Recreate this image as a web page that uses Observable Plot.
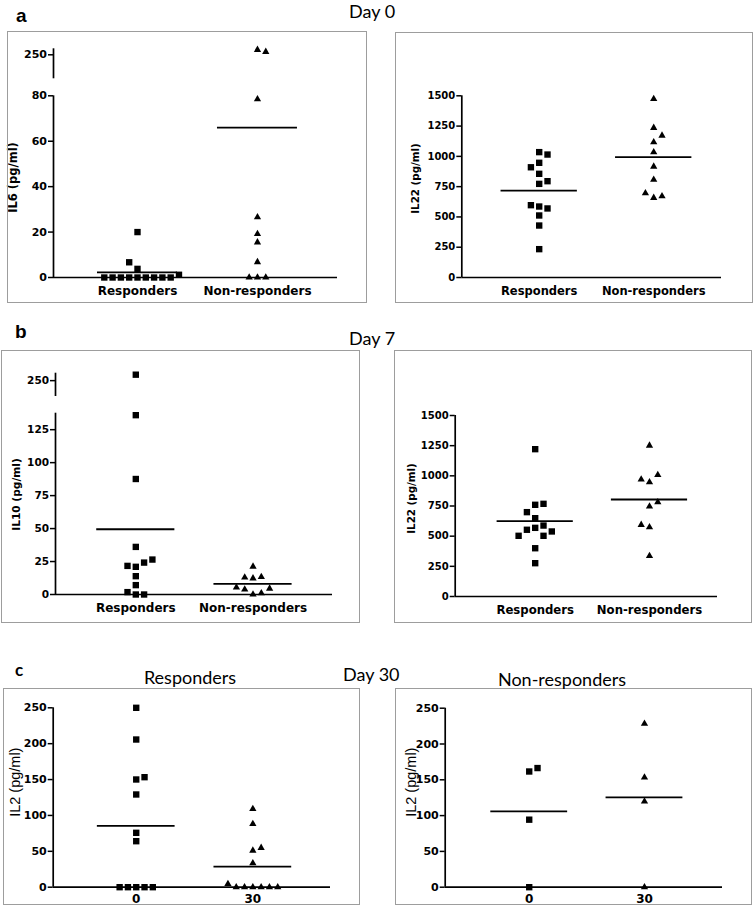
<!DOCTYPE html>
<html><head><meta charset="utf-8">
<script src="https://cdn.jsdelivr.net/npm/d3@7"></script>
<script src="https://cdn.jsdelivr.net/npm/@observablehq/plot@0.6"></script>
<style>
html,body{margin:0;padding:0;background:#fff;}
#page{position:relative;width:756px;height:908px;overflow:hidden;background:#fff;}
.box{position:absolute;border:1.6px solid #9d9d9d;box-sizing:border-box;pointer-events:none;}
.txt{position:absolute;white-space:nowrap;color:#000;}
#page svg{position:absolute;overflow:visible;}
</style></head><body><div id="page"></div>
<script>
// ---------- categories ----------
const groupLabels = ["Responders", "Non-responders"];
const dayLabels = ["0", "30"];

// ---------- Day 0 : IL6 (pg/ml) ----------
const il6Day0Responders    = [0,0,0,0,0,0,0,0,0,1.2,3.8,6.7,20];
const il6Day0NonResponders = [0,0,0,15.5,19.2,255,253,78.5,26.6,6.8];
const il6Day0Means         = [2.3, 66];
// ---------- Day 0 : IL22 (pg/ml) ----------
const il22Day0Responders    = [1035,1015,947,910,856,773,795,586,597,570,512,429,234];
const il22Day0NonResponders = [1475,1236,1172,1117,1034,916,807,658,696,671];
const il22Day0Means         = [718, 993];
// ---------- Day 7 : IL10 (pg/ml) ----------
const il10Day7Responders    = [0,0,1.8,7.1,13.9,21,24.2,21.7,26.5,36.1,87.6,136,256];
const il10Day7NonResponders = [0,1,3.8,4.5,5.3,12.3,13.4,12.9,21.2];
const il10Day7Means         = [49.5, 8.1];
// ---------- Day 7 : IL22 (pg/ml) ----------
const il22Day7Responders    = [1221,760,768,699,649,569,588,553,539,503,503,400,276];
const il22Day7NonResponders = [1251,947,1008,970,746,782,574,594,337];
const il22Day7Means         = [624, 804];
// ---------- Day 30 : IL2 (pg/ml) ----------
const il2RespondersDay0     = [250,205.8,150.1,153.3,129.2,75.8,64.1,0,0,0,0,0];
const il2RespondersDay30    = [0,0,0,0,0,0,4.7,33.4,51.1,54.9,88.3,109.2];
const il2RespondersMeans    = [85.5, 28.8];
const il2NonRespondersDay0  = [161.6,166.4,94.3,0];
const il2NonRespondersDay30 = [228.5,153.3,119.8,0];
const il2NonRespondersMeans = [105.9, 125.4];

// ---------- tick values ----------
const il6Ticks  = [0,20,40,60,80,250];
const il22Ticks = [0,250,500,750,1000,1250,1500];
const il10Ticks = [0,25,50,75,100,125,250];
const il2Ticks  = [0,50,100,150,200,250];

// ---------- axis domains (broken axes: lower + upper segment) ----------
const il6Domain  = [0,80,226,256];
const il10Domain = [0,137.5,234,257.5];
const il22Domain = [0,1500];
const il2Domain  = [0,250];

const page = document.getElementById("page");

// Prism-like column scatter: dodge points that would overlap, alternating sides
function dodge(values, yScale, step, thr) {
  const placed = []; let pref = 1; const out = [];
  for (const v of values) {
    const y = yScale(v);
    const free = k => placed.every(p => p.k !== k || Math.abs(p.y - y) >= thr);
    let k = 0;
    if (!free(0)) {
      for (let j = 1; j < 50; j++) {
        if (free(pref * j)) { k = pref * j; break; }
        if (free(-pref * j)) { k = -pref * j; break; }
      }
      pref = -pref;
    }
    placed.push({k, y}); out.push(k * step);
  }
  return out;
}

const boldLab = {family: "DejaVu Sans", weight: "bold"};
const regLab = {family: "Liberation Sans", weight: "normal"};

const panels = [
  {box:[7,31,360,272], mL:46, mR:30, mT:17.3, mB:26, xd:[0.3,2.667],
   yd:il6Domain, yr:[246,64.3,47.3,17.3], segs:[[0,80],[226,256]], ticks:il6Ticks,
   groups:groupLabels, series:[il6Day0Responders, il6Day0NonResponders], means:il6Day0Means,
   ylabel:"IL6 (pg/ml)", lab:[6,146], labFs:11.5, labStyle:boldLab, tickFs:11, catFs:12, catPad:9},
  {box:[395,32,358,271], mL:66.3, mR:32, mT:63.3, mB:26, xd:[0.324,2.592],
   yd:il22Domain, segs:[il22Domain], ticks:il22Ticks,
   groups:groupLabels, series:[il22Day0Responders, il22Day0NonResponders], means:il22Day0Means,
   ylabel:"IL22 (pg/ml)", lab:[20.5,146], labFs:10.3, labStyle:boldLab, tickFs:10, catFs:11.5, catPad:9},
  {box:[1,350,359,273], mL:54, mR:28, mT:22.7, mB:29, xd:[0.315,2.678],
   yd:il10Domain, yr:[244,62.7,46,22.7], segs:[[0,137.5],[234,257.5]], ticks:il10Ticks,
   groups:groupLabels, series:[il10Day7Responders, il10Day7NonResponders], means:il10Day7Means,
   ylabel:"IL10 (pg/ml)", lab:[15,144], labFs:10.6, labStyle:boldLab, tickFs:10.5, catFs:12, catPad:9},
  {box:[394,350,358,273], mL:60.7, mR:35, mT:65, mB:27, xd:[0.3,2.595],
   yd:il22Domain, segs:[il22Domain], ticks:il22Ticks,
   groups:groupLabels, series:[il22Day7Responders, il22Day7NonResponders], means:il22Day7Means,
   ylabel:"IL22 (pg/ml)", lab:[17,148], labFs:10.3, labStyle:boldLab, tickFs:10, catFs:11.7, catPad:9},
  {box:[3,688,357,217], mL:49.7, mR:30, mT:19.3, mB:18.3, xd:[0.288,2.666],
   yd:il2Domain, segs:[il2Domain], ticks:il2Ticks,
   groups:dayLabels, series:[il2RespondersDay0, il2RespondersDay30], means:il2RespondersMeans,
   ylabel:"IL2 (pg/ml)", lab:[12,93.7], labFs:14.5, labStyle:regLab, tickFs:11, catFs:12, catPad:7},
  {box:[395,688,357,217], mL:49.7, mR:30, mT:19.7, mB:18.3, xd:[0.271,2.677],
   yd:il2Domain, segs:[il2Domain], ticks:il2Ticks,
   groups:dayLabels, series:[il2NonRespondersDay0, il2NonRespondersDay30], means:il2NonRespondersMeans,
   ylabel:"IL2 (pg/ml)", lab:[15.5,93.7], labFs:14.5, labStyle:regLab, tickFs:11, catFs:12, catPad:7}
];

function makePanel(p) {
  const [L, T, W, H] = p.box;
  const yr = p.yr || [H - p.mB, p.mT];
  const ys = d3.scaleLinear().domain(p.yd).range(yr);
  const unit = (W - p.mL - p.mR) / (p.xd[1] - p.xd[0]);
  const pts = [];
  p.series.forEach((vals, i) => {
    const offs = dodge(vals, ys, 8.3, 8.2);
    vals.forEach((v, j) => pts.push({g: i + 1, v, x: i + 1 + offs[j] / unit}));
  });
  const means = p.means.map((v, i) => ({g: i + 1, v}));
  const chart = Plot.plot({
    width: W, height: H,
    marginLeft: p.mL, marginRight: p.mR, marginTop: p.mT, marginBottom: p.mB,
    style: {background: "transparent", fontFamily: "DejaVu Sans", fontWeight: "bold", fontSize: p.tickFs + "px", color: "#000"},
    x: {type: "linear", domain: p.xd, axis: null},
    y: {type: "linear", domain: p.yd, range: yr, axis: null},
    marks: [
      Plot.ruleX(p.segs, {x: () => p.xd[0], y1: d => d[0], y2: d => d[1], stroke: "#000", strokeWidth: 1.7}),
      Plot.ruleY([p.yd[0]], {stroke: "#000", strokeWidth: 1.7}),
      Plot.axisY({ticks: p.ticks, tickSize: 5, tickPadding: 1.5, tickFormat: d => String(d), label: null,
                  fontSize: p.tickFs, strokeWidth: 1.5, stroke: "#000", fill: "#000"}),
      Plot.axisX({ticks: [1, 2], tickFormat: d => p.groups[d - 1], tickSize: 0, tickPadding: p.catPad,
                  label: null, fontSize: p.catFs, fill: "#000"}),
      Plot.ruleY(means, {y: "v", x1: d => d.g - 1/3, x2: d => d.g + 1/3, stroke: "#000", strokeWidth: 1.8}),
      Plot.dot(pts.filter(d => d.g === 1), {x: "x", y: "v", symbol: "square", r: 3.6, fill: "#000"}),
      Plot.dot(pts.filter(d => d.g === 2), {x: "x", y: "v", symbol: "triangle", r: 2.7, fill: "#000"}),
      Plot.text([p.ylabel], {frameAnchor: "top-left", dx: p.lab[0] - p.mL, dy: p.lab[1] - p.mT, rotate: -90,
                  textAnchor: "middle", lineAnchor: "middle", fontSize: p.labFs,
                  fontFamily: p.labStyle.family, fontWeight: p.labStyle.weight, fill: "#000"})
    ]
  });
  chart.style.left = L + "px";
  chart.style.top = T + "px";
  page.appendChild(chart);
  const box = document.createElement("div");
  box.className = "box";
  Object.assign(box.style, {left: L + "px", top: T + "px", width: W + "px", height: H + "px"});
  page.appendChild(box);
}
panels.forEach(makePanel);

// ---------- figure texts ----------
const ascentRatio = {"Lato": 0.887, "Liberation Sans": 0.8465, "DejaVu Sans": 0.846};
function addText(str, x, baseline, family, size, weight, anchor) {
  const d = document.createElement("div");
  d.className = "txt";
  d.textContent = str;
  d.style.fontFamily = `"${family}"`;
  d.style.fontSize = size + "px";
  d.style.fontWeight = weight;
  d.style.lineHeight = size + "px";
  d.style.top = (baseline - size * ascentRatio[family]) + "px";
  d.style.left = x + "px";
  if (anchor === "middle") d.style.transform = "translateX(-50%)";
  page.appendChild(d);
}
addText("a", 16, 22, "Liberation Sans", 19, "bold");
addText("Day 0", 349, 18, "Lato", 18, "normal");
addText("b", 15, 338, "Liberation Sans", 19, "bold");
addText("Day 7", 349, 345, "Lato", 18, "normal");
addText("c", 15, 676, "Lato", 17, "bold");
addText("Day 30", 343, 681, "Lato", 18, "normal");
addText("Responders", 190, 684, "Lato", 18, "normal", "middle");
addText("Non-responders", 562, 686, "Lato", 18, "normal", "middle");
</script>
</body></html>
